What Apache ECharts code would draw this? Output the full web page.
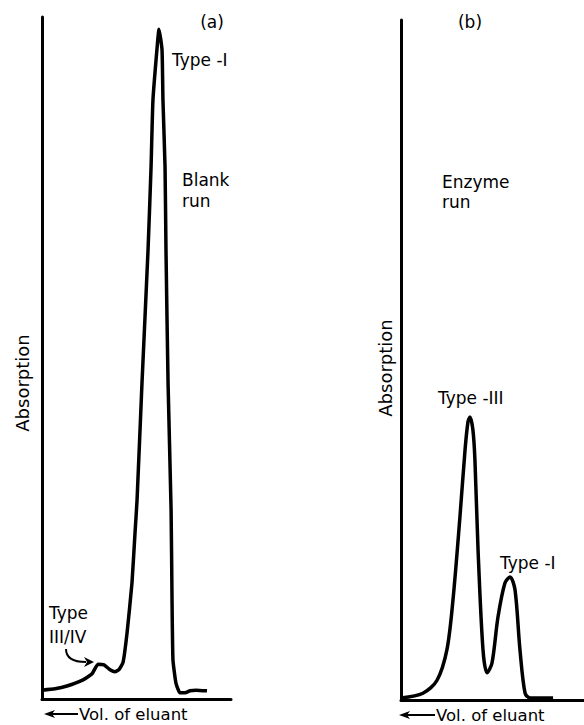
<!DOCTYPE html>
<html>
<head>
<meta charset="utf-8">
<script src="https://cdn.jsdelivr.net/npm/echarts@6/dist/echarts.min.js"></script>
<style>
  html, body { margin: 0; padding: 0; background: #fff; }
  #chart { width: 584px; height: 725px; }
</style>
</head>
<body>
<div id="chart"></div>
<script>
// (a) blank run - elution volume vs absorption (arbitrary units, 0-100)
const blankVol = [0, 6.9, 13.2, 21.7, 26.5, 29.6, 32.8, 36.0, 38.6, 40.7, 42.9, 45.0, 47.6, 49.2, 50.3, 52.9, 56.1, 57.7, 58.7, 60.8, 61.9, 63.5, 64.0, 65.1, 65.6, 66.7, 68.3, 68.8, 69.3, 70.9, 73.0, 75.7, 78.3, 81.5, 87.3];
const blankAbs = [1.3, 1.5, 1.9, 2.8, 3.7, 5.1, 5.0, 4.3, 4.0, 4.3, 5.4, 9.7, 17.0, 24.3, 29.2, 46.3, 65.8, 78.0, 87.8, 95.2, 98.2, 95.2, 87.8, 78.0, 65.8, 46.3, 27.7, 14.5, 5.7, 2.3, 0.9, 0.9, 1.2, 1.3, 1.2];

// (b) enzyme run
const enzymeVol = [0, 12.0, 19.7, 25.1, 28.4, 32.2, 35.0, 36.6, 37.7, 39.3, 40.4, 42.1, 44.8, 47.0, 49.7, 53.0, 56.8, 59.6, 62.3, 65.0, 67.8, 70.5, 83.1];
const enzymeAbs = [0.3, 1.0, 2.9, 7.4, 14.7, 26.9, 36.8, 40.9, 41.6, 39.7, 35.3, 22.1, 7.4, 4.0, 5.4, 12.2, 17.2, 18.1, 16.2, 7.4, 1.0, 0.3, 0.3];

const font = 'DejaVu Sans';

function pairs(xs, ys) {
  return xs.map((x, i) => [x, ys[i]]);
}

function txt(x, y, s, size, extra) {
  return Object.assign({
    type: 'text',
    x: x, y: y,
    style: {
      text: s,
      font: (size || 17) + 'px "' + font + '"',
      fill: '#000',
      textAlign: 'left',
      textVerticalAlign: 'middle'
    }
  }, extra || {});
}

function centered(x, y, s, size, rot) {
  let t = txt(x, y, s, size, rot ? { rotation: rot } : null);
  t.style.textAlign = 'center';
  return t;
}

// "<--" arrow in front of the x axis caption
function volArrow(x0, x1, y) {
  return [
    { type: 'line', shape: { x1: x0 + 8, y1: y, x2: x1, y2: y }, style: { stroke: '#000', lineWidth: 2 } },
    { type: 'polygon', shape: { points: [[x0, y], [x0 + 11, y - 4], [x0 + 8, y], [x0 + 11, y + 4]] }, style: { fill: '#000' } }
  ];
}

let axisCommon = {
  type: 'value',
  min: 0,
  max: 100,
  axisLine: { show: true, lineStyle: { color: '#000', width: 3 } },
  axisTick: { show: false },
  axisLabel: { show: false },
  splitLine: { show: false }
};

let chart = echarts.init(document.getElementById('chart'), null, { renderer: 'svg' });

let option = {
  backgroundColor: '#fff',
  animation: false,
  grid: [
    { left: 42, top: 17, width: 189, height: 682 },
    { left: 401, top: 20, width: 183, height: 680 }
  ],
  xAxis: [
    Object.assign({ gridIndex: 0 }, axisCommon),
    Object.assign({ gridIndex: 1 }, axisCommon)
  ],
  yAxis: [
    Object.assign({ gridIndex: 0 }, axisCommon),
    Object.assign({ gridIndex: 1 }, axisCommon)
  ],
  series: [
    {
      name: 'Blank run',
      type: 'line',
      xAxisIndex: 0, yAxisIndex: 0,
      symbol: 'none',
      smooth: 0.15,
      lineStyle: { color: '#000', width: 3.5 },
      data: pairs(blankVol, blankAbs)
    },
    {
      name: 'Enzyme run',
      type: 'line',
      xAxisIndex: 1, yAxisIndex: 1,
      symbol: 'none',
      smooth: 0.3,
      lineStyle: { color: '#000', width: 3.5 },
      data: pairs(enzymeVol, enzymeAbs)
    }
  ],
  graphic: [
    // panel (a)
    centered(212, 22, '(a)'),
    txt(172, 60, 'Type -I'),
    txt(182, 180, 'Blank'),
    txt(182, 201, 'run'),
    txt(49, 613, 'Type'),
    txt(49, 637, 'III/IV'),
    { type: 'bezierCurve', shape: { x1: 66, y1: 649, cpx1: 66, cpy1: 662, x2: 86, y2: 662 }, style: { stroke: '#000', lineWidth: 2, fill: null } },
    { type: 'polygon', shape: { points: [[94, 662], [84, 657], [87, 662], [84, 667]] }, style: { fill: '#000' } },
    centered(22, 383, 'Absorption', 18, Math.PI / 2),
    txt(79, 714, 'Vol. of eluant', 16.5),
    ...volArrow(44, 78, 714),
    // panel (b)
    centered(470, 22, '(b)'),
    txt(442, 182, 'Enzyme'),
    txt(442, 202, 'run'),
    txt(438, 398, 'Type -III'),
    txt(500, 563, 'Type -I'),
    centered(385, 368, 'Absorption', 18, Math.PI / 2),
    txt(436, 715, 'Vol. of eluant', 16.5),
    ...volArrow(399, 435, 715)
  ]
};

option && chart.setOption(option);
</script>
</body>
</html>
